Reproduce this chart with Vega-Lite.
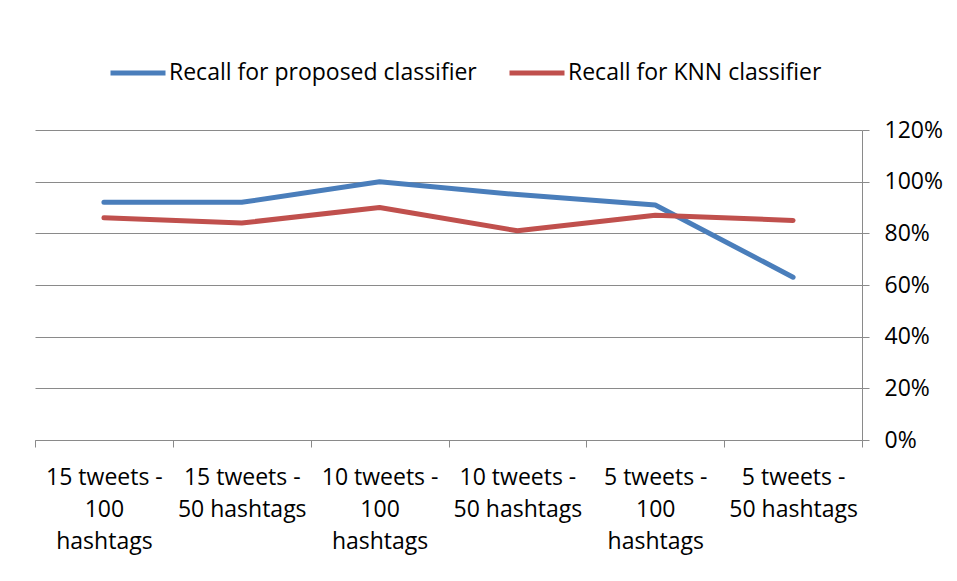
{
  "$schema": "https://vega.github.io/schema/vega-lite/v6.json",
  "width": 827,
  "height": 310,
  "autosize": {"type": "none"},
  "padding": {"left": 35, "top": 130, "right": 95, "bottom": 141},
  "background": "white",
  "config": {
    "view": {"stroke": null},
    "font": "Open Sans",
    "axis": {"labelFont": "Open Sans", "labelColor": "#000000", "labelFontSize": 23},
    "legend": {"labelFont": "Open Sans", "labelColor": "#000000", "labelFontSize": 23}
  },
  "data": {
    "values": [
      {"setting": "15 tweets - 100 hashtags", "series": "Recall for proposed classifier", "recall": 0.92},
      {"setting": "15 tweets - 50 hashtags", "series": "Recall for proposed classifier", "recall": 0.92},
      {"setting": "10 tweets - 100 hashtags", "series": "Recall for proposed classifier", "recall": 1.0},
      {"setting": "10 tweets - 50 hashtags", "series": "Recall for proposed classifier", "recall": 0.95},
      {"setting": "5 tweets - 100 hashtags", "series": "Recall for proposed classifier", "recall": 0.91},
      {"setting": "5 tweets - 50 hashtags", "series": "Recall for proposed classifier", "recall": 0.63},
      {"setting": "15 tweets - 100 hashtags", "series": "Recall for KNN classifier", "recall": 0.86},
      {"setting": "15 tweets - 50 hashtags", "series": "Recall for KNN classifier", "recall": 0.84},
      {"setting": "10 tweets - 100 hashtags", "series": "Recall for KNN classifier", "recall": 0.90},
      {"setting": "10 tweets - 50 hashtags", "series": "Recall for KNN classifier", "recall": 0.81},
      {"setting": "5 tweets - 100 hashtags", "series": "Recall for KNN classifier", "recall": 0.87},
      {"setting": "5 tweets - 50 hashtags", "series": "Recall for KNN classifier", "recall": 0.85}
    ]
  },
  "layer": [
    {
      "mark": {"type": "point", "opacity": 0},
      "encoding": {
        "x": {
          "field": "setting",
          "type": "nominal",
          "sort": null,
          "scale": {"type": "band", "paddingInner": 0, "paddingOuter": 0},
          "axis": {
            "title": null,
            "orient": "bottom",
            "labelAngle": 0,
            "tickBand": "extent",
            "domainColor": "#8a8a8a",
            "tickColor": "#8a8a8a",
            "tickSize": 7,
            "labelPadding": 19,
            "labelLineHeight": 32,
            "labelBaseline": "top",
            "labelLimit": 0,
            "labelExpr": "!isString(datum.value) ? '' : indexof(datum.value, ' 100 ') >= 0 ? [split(datum.value, ' - ')[0] + ' -', '100', 'hashtags'] : [split(datum.value, ' - ')[0] + ' -', split(datum.value, ' - ')[1]]"
          }
        }
      }
    },
    {
      "mark": {"type": "line", "strokeWidth": 5, "strokeCap": "round", "strokeJoin": "round"},
      "encoding": {
        "x": {
          "field": "setting",
          "type": "nominal",
          "sort": null,
          "scale": {"type": "point", "padding": 0.5},
          "axis": null
        },
        "y": {
          "field": "recall",
          "type": "quantitative",
          "scale": {"domain": [0, 1.2], "nice": false},
          "axis": {
            "title": null,
            "orient": "right",
            "values": [0, 0.2, 0.4, 0.6, 0.8, 1.0, 1.2],
            "format": ".0%",
            "grid": true,
            "gridColor": "#8a8a8a",
            "gridWidth": 1,
            "domainColor": "#8a8a8a",
            "tickColor": "#8a8a8a",
            "tickSize": 7,
            "labelPadding": 15
          }
        },
        "color": {
          "field": "series",
          "type": "nominal",
          "scale": {"domain": ["Recall for proposed classifier", "Recall for KNN classifier"], "range": ["#4a7ebb", "#c0504d"]},
          "legend": {
            "title": null,
            "orient": "none",
            "direction": "horizontal",
            "legendX": 73,
            "legendY": -87,
            "symbolType": "stroke",
            "symbolSize": 3025,
            "symbolStrokeWidth": 5,
            "labelOffset": 1,
            "labelLimit": 0,
            "columnPadding": 22
          }
        }
      }
    }
  ],
  "resolve": {"scale": {"x": "independent"}, "axis": {"x": "independent"}}
}
